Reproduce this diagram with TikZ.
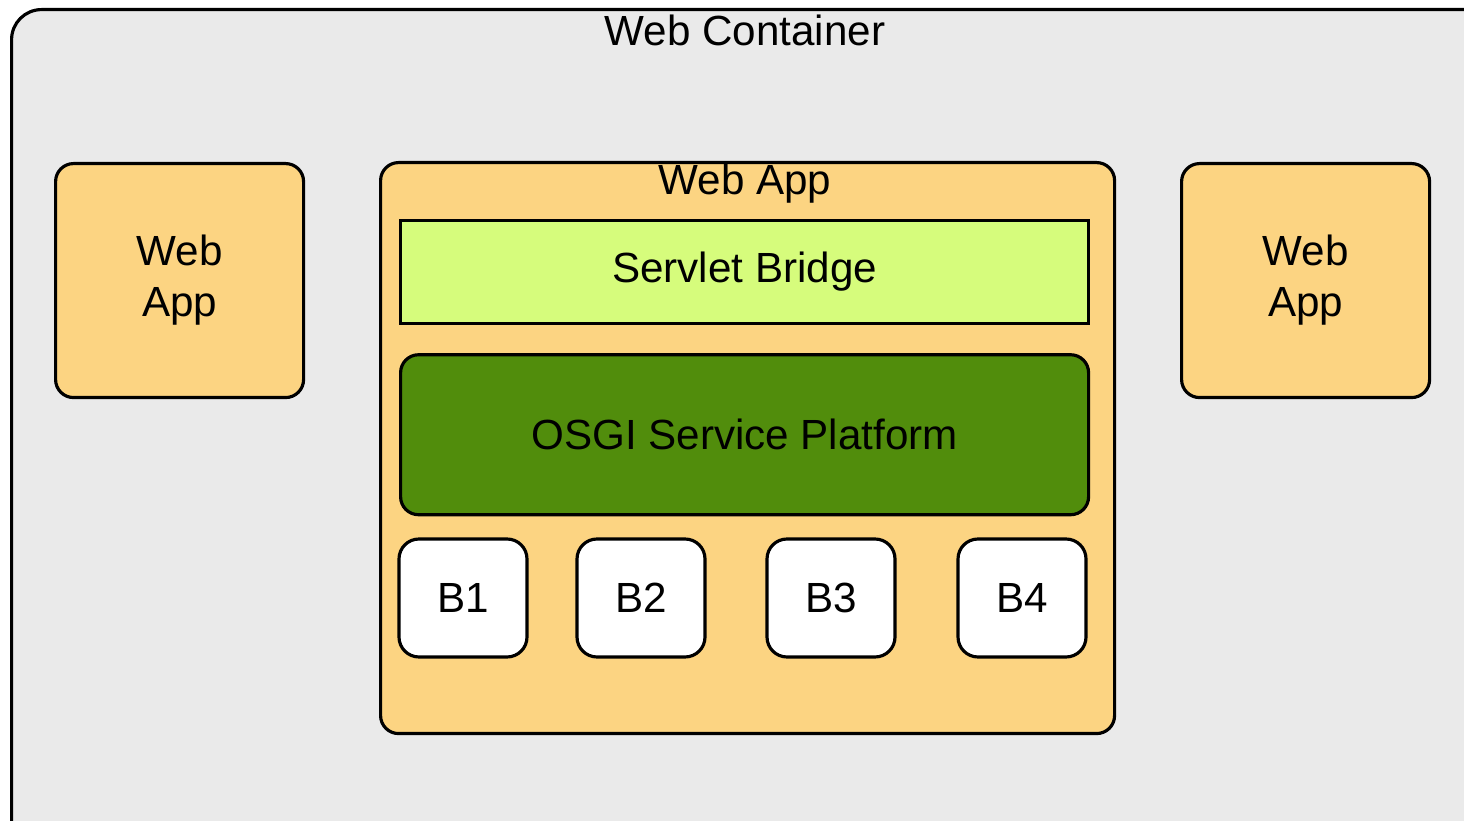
\documentclass[tikz,border=0pt]{standalone}
\usepackage{fontspec}
\setmainfont{Liberation Sans}
\usetikzlibrary{positioning}
\definecolor{contgray}{HTML}{EAEAEA}
\definecolor{appyellow}{HTML}{FCD482}
\definecolor{bridgegreen}{HTML}{D6FC7C}
\definecolor{osgigreen}{HTML}{518D0C}

\begin{document}
\begin{tikzpicture}[line width=0.9pt,
    every node/.style={font=\fontsize{12}{14.5}\selectfont},
    container/.style={draw,fill=contgray,rounded corners=0.3cm,anchor=north west},
    webapp/.style={draw,fill=appyellow,rounded corners=0.18cm,anchor=north west,align=center},
    bridge/.style={draw,fill=bridgegreen,anchor=north west,minimum width=6.88cm,minimum height=1.03cm},
    osgi/.style={draw,fill=osgigreen,rounded corners=0.18cm,anchor=north west,minimum width=6.88cm,minimum height=1.6cm},
    bundle/.style={draw,fill=white,rounded corners=0.2cm,minimum width=1.28cm,minimum height=1.18cm}]
   \useasboundingbox (0,0) rectangle (14.64,-8.21);

   \node[container,minimum width=15cm,minimum height=9cm] (cont) at (0.10,-0.08) {};
   \node (contlabel) at (7.45,-0.30) {Web Container};

   \node[webapp,minimum width=2.48cm,minimum height=2.34cm] (appL) at (0.54,-1.62) {Web\\App};
   \node[webapp,minimum width=2.48cm,minimum height=2.34cm] (appR) at (11.80,-1.62) {Web\\App};

   \node[webapp,minimum width=7.34cm,minimum height=5.71cm] (app) at (3.79,-1.61) {};
   \node (applabel) at (7.45,-1.84) {Web App};

   \node[bridge] (bridge) at (3.99,-2.19) {Servlet Bridge};
   \node[osgi,below=0.28cm of bridge.south west,anchor=north west] (osgi) {OSGI Service Platform};

   \node[bundle] (b1) at (4.63,-5.98) {B1};
   \node[bundle] (b2) at (6.41,-5.98) {B2};
   \node[bundle] (b3) at (8.31,-5.98) {B3};
   \node[bundle] (b4) at (10.22,-5.98) {B4};
\end{tikzpicture}
\end{document}
